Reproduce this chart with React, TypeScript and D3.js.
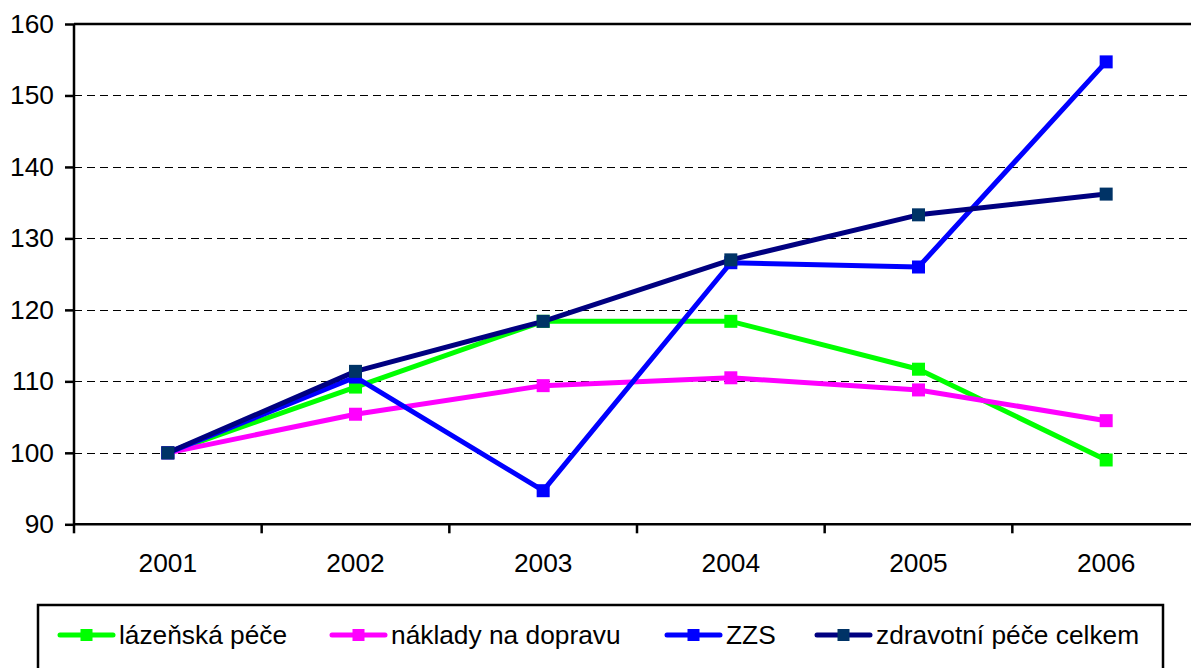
import React, { useEffect, useRef } from 'react';
import * as d3 from 'd3';

const years = ['2001', '2002', '2003', '2004', '2005', '2006'];
const lazenska = [100, 109.2, 118.4, 118.4, 111.7, 99.0];
const doprava = [100, 105.4, 109.4, 110.5, 108.8, 104.5];
const zzs = [100, 110.6, 94.7, 126.6, 126.0, 154.7];
const celkem = [100, 111.4, 118.4, 127.0, 133.3, 136.2];
const yTicks = [90, 100, 110, 120, 130, 140, 150, 160];

const seriesList = [
  { name: 'lázeňská péče', values: lazenska, line: '#00ff00', marker: '#00ff00' },
  { name: 'náklady na dopravu', values: doprava, line: '#ff00ff', marker: '#ff00ff' },
  { name: 'ZZS', values: zzs, line: '#0000ff', marker: '#0000ff' },
  { name: 'zdravotní péče celkem', values: celkem, line: '#000080', marker: '#003366' }
];

const width = 1191;
const height = 668;
const font = '"Liberation Sans", Arial, sans-serif';
const fontSize = 26.3;

const App = () => {
  const container = useRef(null);

  useEffect(() => {
    const svg = d3.select(container.current);
    svg.selectAll('*').remove();

    const xScale = d3.scaleBand().domain(years).range([74, 1200]);
    const yScale = d3.scaleLinear().domain([90, 160]).range([524.3, 24]);

    // gridlines
    svg
      .append('g')
      .selectAll('line')
      .data(yTicks.filter(d => d > 90 && d < 160))
      .join('line')
      .attr('x1', 74)
      .attr('x2', 1200)
      .attr('y1', d => Math.round(yScale(d)) + 0.5)
      .attr('y2', d => Math.round(yScale(d)) + 0.5)
      .attr('stroke', '#000')
      .attr('stroke-width', 1)
      .attr('stroke-dasharray', '8,5');

    // top border
    svg
      .append('line')
      .attr('x1', 74)
      .attr('x2', 1200)
      .attr('y1', yScale(160))
      .attr('y2', yScale(160))
      .attr('stroke', '#000')
      .attr('stroke-width', 2.5);

    const yAxis = d3.axisLeft(yScale).tickValues(yTicks).tickSize(9).tickPadding(11);
    const yg = svg.append('g').attr('transform', 'translate(74,0)').call(yAxis);
    yg.select('.domain').attr('stroke-width', 2.5).attr('d', `M0,${yScale(160)}V${yScale(90)}`);
    yg.selectAll('.tick line').attr('stroke-width', 2.5);
    yg.selectAll('.tick text')
      .attr('font-family', font)
      .attr('font-size', fontSize)
      .attr('fill', '#000');

    // x axis
    const xg = svg.append('g');
    xg.append('line')
      .attr('x1', 73)
      .attr('x2', 1200)
      .attr('y1', yScale(90))
      .attr('y2', yScale(90))
      .attr('stroke', '#000')
      .attr('stroke-width', 2.5);
    xg.selectAll('.xtick')
      .data(years)
      .join('line')
      .attr('class', 'xtick')
      .attr('x1', d => xScale(d))
      .attr('x2', d => xScale(d))
      .attr('y1', yScale(90))
      .attr('y2', yScale(90) + 9)
      .attr('stroke', '#000')
      .attr('stroke-width', 2.5);
    xg.selectAll('.xlabel')
      .data(years)
      .join('text')
      .attr('class', 'xlabel')
      .attr('x', d => xScale(d) + xScale.bandwidth() / 2)
      .attr('y', 572)
      .attr('text-anchor', 'middle')
      .attr('font-family', font)
      .attr('font-size', fontSize)
      .text(d => d);

    const line = d3
      .line<number>()
      .x((d, i) => xScale(years[i]) + xScale.bandwidth() / 2)
      .y(d => yScale(d));

    seriesList.forEach(s => {
      const g = svg.append('g');
      g.append('path')
        .attr('d', line(s.values))
        .attr('fill', 'none')
        .attr('stroke', s.line)
        .attr('stroke-width', 5)
        .attr('stroke-linejoin', 'round');
      g.selectAll('rect')
        .data(s.values)
        .join('rect')
        .attr('x', (d, i) => xScale(years[i]) + xScale.bandwidth() / 2 - 6.5)
        .attr('y', d => yScale(d) - 6.5)
        .attr('width', 13)
        .attr('height', 13)
        .attr('fill', s.marker);
    });

    // legend
    const lg = svg.append('g');
    lg.append('rect')
      .attr('x', 38)
      .attr('y', 605)
      .attr('width', 1125)
      .attr('height', 80)
      .attr('fill', '#fff')
      .attr('stroke', '#000')
      .attr('stroke-width', 2.5);
    const legendX = [60, 332, 667, 817];
    seriesList.forEach((s, i) => {
      const x0 = legendX[i];
      lg.append('line')
        .attr('x1', x0)
        .attr('x2', x0 + 53)
        .attr('y1', 635)
        .attr('y2', 635)
        .attr('stroke', s.line)
        .attr('stroke-width', 5)
        .attr('stroke-linecap', 'round');
      lg.append('rect')
        .attr('x', x0 + 26.5 - 6)
        .attr('y', 635 - 6)
        .attr('width', 12)
        .attr('height', 12)
        .attr('fill', s.marker);
      lg.append('text')
        .attr('x', x0 + 59)
        .attr('y', 644)
        .attr('font-family', font)
        .attr('font-size', fontSize)
        .text(s.name);
    });
  }, []);

  return (
    <svg
      ref={container}
      width={width}
      height={height}
      style={{ position: 'absolute', left: 0, top: 0, background: '#fff' }}
    />
  );
};

export default App;
